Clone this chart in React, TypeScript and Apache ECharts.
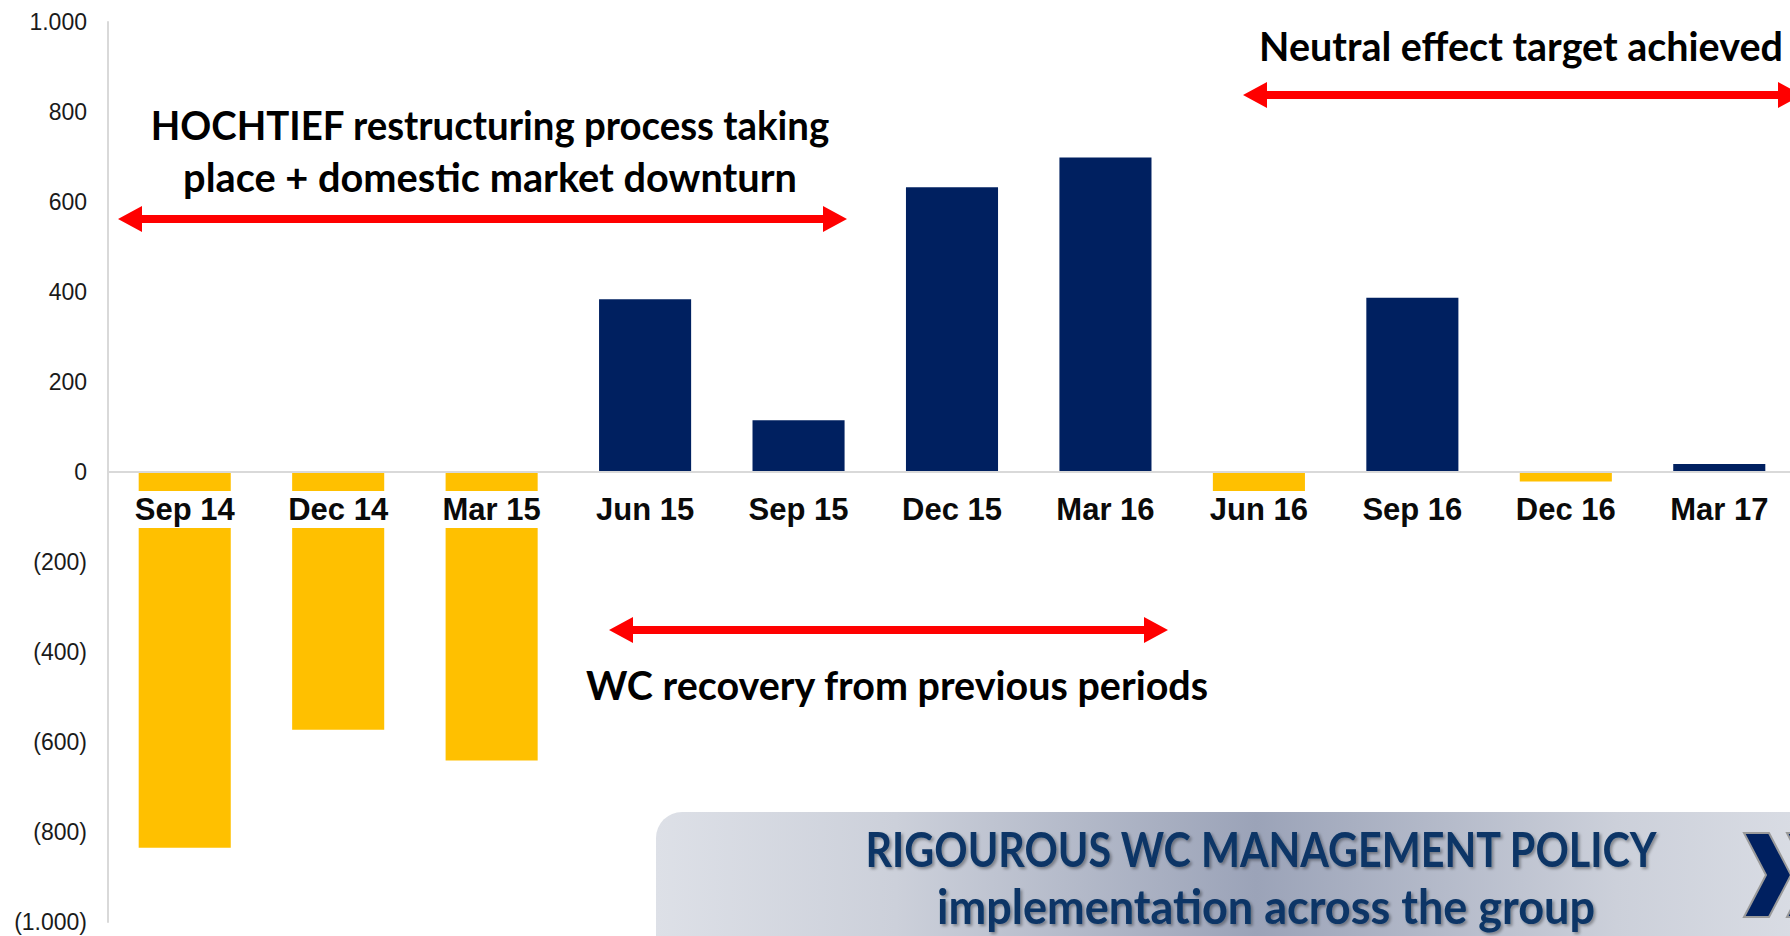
import React, { useEffect, useRef } from "react";
import * as echarts from "echarts";

const categories = ["Sep 14", "Dec 14", "Mar 15", "Jun 15", "Sep 15", "Dec 15", "Mar 16", "Jun 16", "Sep 16", "Dec 16", "Mar 17"];
const wcValues = [-835, -573, -641, 384, 115, 633, 699, -45, 387, -21, 18];
const yMin = -1000;
const yMax = 1000;
const yStep = 200;

const NAVY = "#002060";
const YELLOW = "#FFC000";
const RED = "#FF0000";

const GRID_TOP = 22;
const GRID_H = 900;

const measureCtx = typeof document !== "undefined" ? document.createElement("canvas").getContext("2d") : null;
function fitScale(text: string, size: number, family: string, weight: string, target: number) {
  if (!measureCtx) return 1;
  measureCtx.font = `${weight} ${size}px ${family}`;
  const w = measureCtx.measureText(text).width;
  return w > 0 ? target / w : 1;
}

function fmtThousands(v: number) {
  return String(v).replace(/\B(?=(\d{3})+(?!\d))/g, ".");
}

function arrow(x1: number, x2: number, y: number, head = 24, headH = 26, shaft = 8) {
  const s = shaft / 2;
  const h = headH / 2;
  return {
    type: "polygon",
    z: 20,
    shape: {
      points: [
        [x1, y], [x1 + head, y - h], [x1 + head, y - s], [x2 - head, y - s], [x2 - head, y - h],
        [x2, y], [x2 - head, y + h], [x2 - head, y + s], [x1 + head, y + s], [x1 + head, y + h],
      ],
    },
    style: { fill: RED },
  };
}

function label(text: string, cx: number, cy: number, width: number, size: number, color: string, extra: any = {}) {
  const family = "Lato";
  const sx = fitScale(text, size, family, "bold", width);
  return {
    type: "text",
    z: 30,
    x: cx,
    y: cy,
    scaleX: sx,
    style: {
      text,
      x: 0,
      y: 0,
      align: "center",
      verticalAlign: "middle",
      fontSize: size,
      fontWeight: "bold",
      fontFamily: family,
      fill: color,
      ...extra,
    },
  };
}

function chevron(x: number) {
  return {
    type: "polygon",
    z: 25,
    shape: {
      points: [[x, 833], [x + 25, 833], [x + 47, 875], [x + 25, 917], [x, 917], [x + 22, 875]],
    },
    style: { fill: NAVY, stroke: "#9a9a9a", lineWidth: 2 },
  };
}

export default function App() {
  const ref = useRef<HTMLDivElement>(null);
  useEffect(() => {
    document.body.style.margin = "0";
    if (!ref.current) return;
    const chart = echarts.init(ref.current, undefined, { renderer: "svg" });
    const boxShadow = { textShadowColor: "rgba(0,0,0,0.35)", textShadowBlur: 3, textShadowOffsetX: 2, textShadowOffsetY: 2 };
    // offset of the category axis so that it sits on the zero line
    const zeroOffset = -GRID_H * (0 - yMin) / (yMax - yMin);
    chart.setOption({
      animation: false,
      backgroundColor: "#ffffff",
      grid: { left: 108, top: GRID_TOP, width: 1688, height: GRID_H, containLabel: false, outerBoundsMode: "none" },
      xAxis: {
        type: "category",
        data: categories,
        z: 5,
        position: "bottom",
        offset: zeroOffset,
        axisLine: { show: true, onZero: false, lineStyle: { color: "#d9d9d9", width: 2 } },
        axisTick: { show: false },
        axisLabel: {
          interval: 0,
          margin: 19,
          fontSize: 31,
          fontWeight: "bold",
          fontFamily: "Liberation Sans, Arial, sans-serif",
          color: "#0a0a0a",
          backgroundColor: "#ffffff",
          lineHeight: 37,
          padding: [0, 2],
        },
        splitLine: { show: false },
      },
      yAxis: {
        type: "value",
        min: yMin,
        max: yMax,
        interval: yStep,
        axisLine: { show: true, lineStyle: { color: "#d9d9d9", width: 2 } },
        axisTick: { show: false },
        splitLine: { show: false },
        axisLabel: {
          margin: 21,
          fontSize: 23,
          fontFamily: "Liberation Sans, Arial, sans-serif",
          color: "#1a1a1a",
          formatter: (v: number) => (v < 0 ? `(${fmtThousands(-v)})` : fmtThousands(v)),
        },
      },
      series: [
        {
          type: "bar",
          data: wcValues,
          barWidth: "60%",
          z: 2,
          itemStyle: {
            color: (p: any) => (p.value >= 0 ? NAVY : YELLOW),
          },
        },
      ],
      graphic: [
        {
          type: "rect",
          z: 15,
          shape: { x: 656, y: 812, width: 1200, height: 170, r: 26 },
          style: {
            fill: {
              type: "linear",
              x: 0, y: 0, x2: 1, y2: 0,
              colorStops: [
                { offset: 0, color: "#dde0e7" },
                { offset: 0.2, color: "#ccd0da" },
                { offset: 0.5, color: "#9ba3b8" },
                { offset: 0.8, color: "#ccd0da" },
                { offset: 1, color: "#dde0e7" },
              ],
            },
          },
        },
        chevron(1744),
        chevron(1787),
        arrow(118, 847, 219),
        arrow(609, 1168, 630),
        arrow(1243, 1802, 95),
        label("HOCHTIEF restructuring process taking", 490, 124, 680, 40, "#000000"),
        label("place + domestic market downturn", 490, 176, 614, 40, "#000000"),
        label("WC recovery from previous periods", 897, 684, 623, 40, "#000000"),
        label("Neutral effect target achieved", 1521, 45, 524, 40, "#000000"),
        label("RIGOUROUS WC MANAGEMENT POLICY", 1261, 849, 793, 48, "#0a3566", boxShadow),
        label("implementation across the group", 1266, 905, 658, 48, "#0a3566", boxShadow),
      ],
    });
    return () => chart.dispose();
  }, []);
  return <div ref={ref} style={{ width: 1790, height: 936 }} />;
}
